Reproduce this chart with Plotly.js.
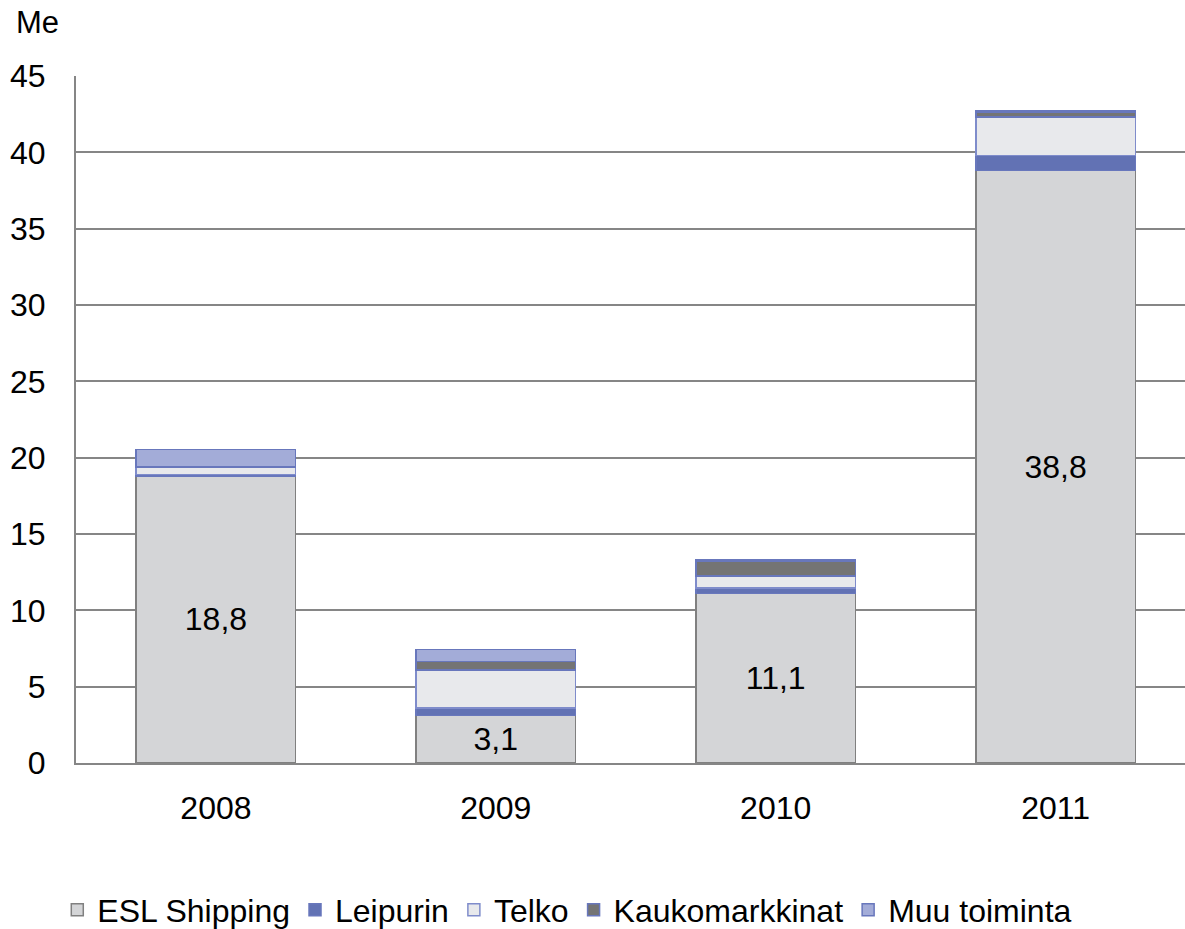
<!DOCTYPE html>
<html>
<head>
<meta charset="utf-8">
<script src="https://cdn.plot.ly/plotly-3.0.1.min.js"></script>
<style>html,body{margin:0;padding:0;background:#fff;}#chart{width:1185px;height:929px;}</style>
</head>
<body>
<div id="chart"></div>
<script>
const years = ['2008', '2009', '2010', '2011'];
const eslShipping = [18.8, 3.1, 11.1, 38.8];
const leipurin = [0.1, 0.5, 0.35, 1.0];
const telko = [0.5, 2.5, 0.8, 2.5];
const kaukomarkkinat = [0.0, 0.55, 0.95, 0.35];
const muuToiminta = [1.15, 0.8, 0.1, 0.1];

const seriesNames = ['ESL Shipping', 'Leipurin', 'Telko', 'Kaukomarkkinat', 'Muu toiminta'];
const seriesValues = [eslShipping, leipurin, telko, kaukomarkkinat, muuToiminta];
const fills = ['#D4D5D7', '#6272B4', '#E8E9EC', '#747474', '#A3ACD8'];
const borders = ['#808080', '#6877BC', '#7F8CCB', '#6877BC', '#6877BC'];

const traces = seriesNames.map((name, i) => {
  const t = {
    type: 'bar',
    name: name,
    x: years,
    y: seriesValues[i],
    marker: {color: fills[i], line: {color: borders[i], width: 1.5}},
    hoverinfo: 'skip'
  };
  if (i === 0) {
    t.texttemplate = '%{y:.1f}';
    t.textposition = 'inside';
    t.insidetextanchor = 'middle';
    t.textfont = {family: 'Liberation Sans, Arial, sans-serif', size: 32, color: '#000'};
  } else {
    t.textposition = 'none';
  }
  return t;
});

const layout = {
  width: 1185, height: 929,
  margin: {l: 76, r: 0, t: 76, b: 166, autoexpand: false},
  barmode: 'stack',
  bargap: 0.43,
  separators: ', ',
  paper_bgcolor: '#fff',
  plot_bgcolor: '#fff',
  font: {family: 'Liberation Sans, Arial, sans-serif', size: 32, color: '#000'},
  showlegend: true,
  legend: {
    orientation: 'h', x: 0.443, xanchor: 'center', xref: 'paper',
    y: -0.214, yanchor: 'middle', traceorder: 'normal',
    font: {size: 32}, itemclick: false, itemwidth: 30
  },
  xaxis: {
    type: 'category',
    range: [-0.5, 3.4625],
    showline: true, linecolor: '#868686', linewidth: 2,
    ticks: '', showgrid: false, zeroline: false,
    ticklabelstandoff: 16,
    tickfont: {size: 32}
  },
  yaxis: {
    range: [0, 45],
    tickvals: [0, 5, 10, 15, 20, 25, 30, 35, 40, 45],
    showline: true, linecolor: '#868686', linewidth: 2,
    showgrid: true, gridcolor: '#868686', gridwidth: 2,
    zeroline: false, ticks: '',
    ticklabelstandoff: 22,
    tickfont: {size: 32}
  },
  annotations: [{
    text: 'Me', xref: 'paper', yref: 'paper',
    x: (14 - 76) / 1109, xanchor: 'left',
    y: 1 + (76 - 22) / 687, yanchor: 'middle',
    showarrow: false, font: {size: 31}
  }]
};

Plotly.newPlot('chart', traces, layout, {displayModeBar: false, staticPlot: true});
</script>
</body>
</html>
